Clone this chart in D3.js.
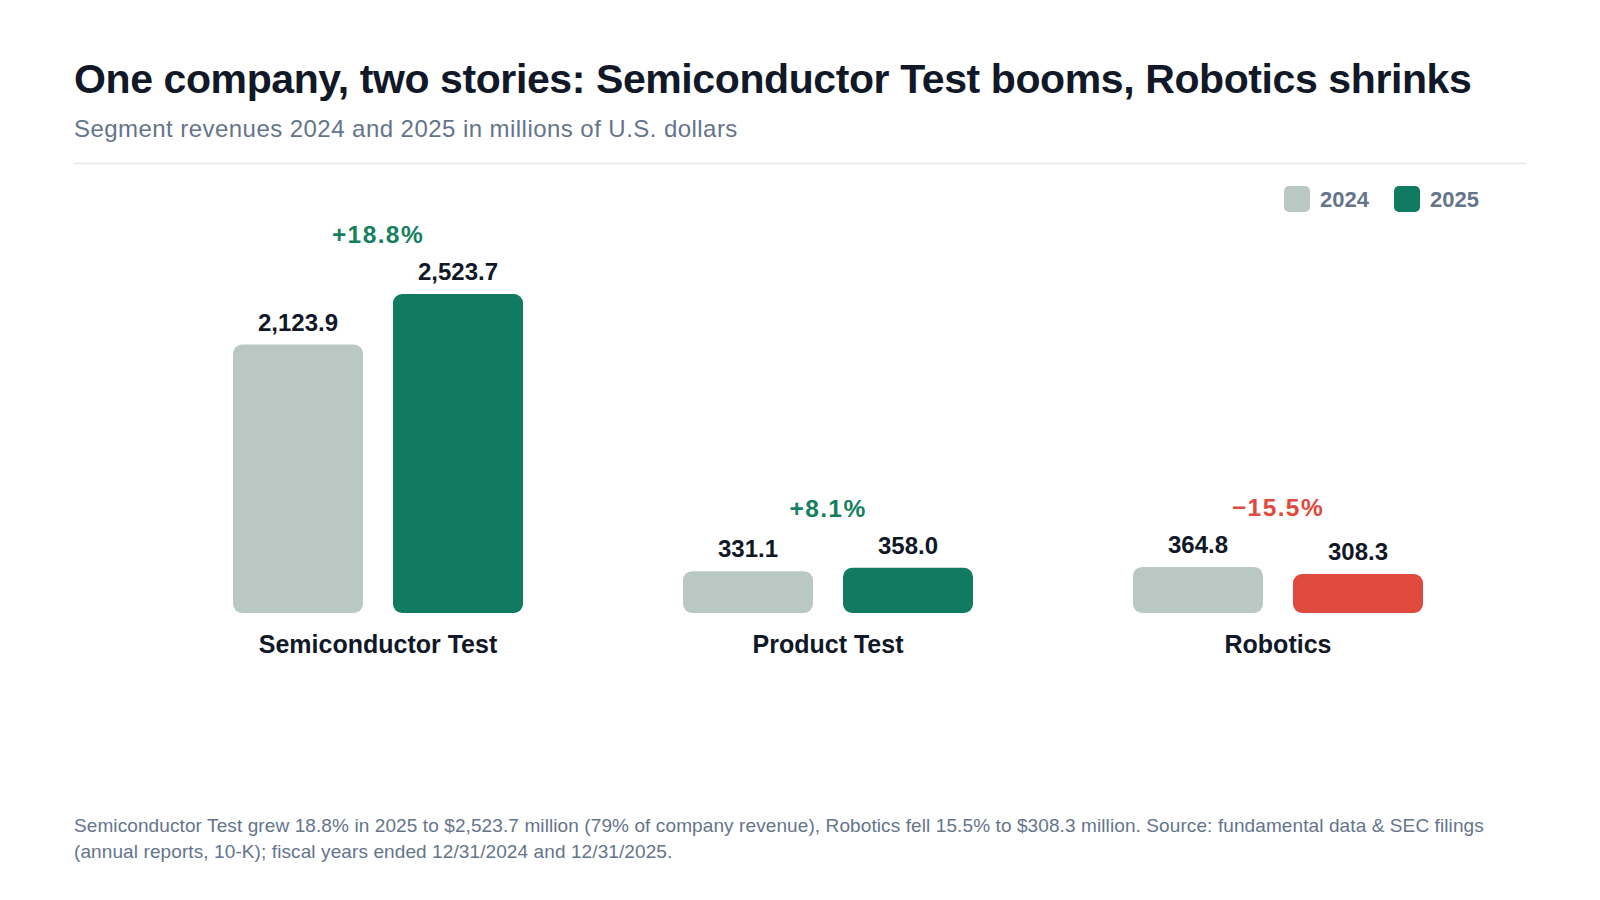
<!DOCTYPE html>
<html>
<head>
<meta charset="utf-8">
<script src="https://cdn.jsdelivr.net/npm/d3@7"></script>
<style>
  html, body { margin: 0; padding: 0; background: #ffffff; }
  svg { display: block; font-family: "Liberation Sans", Arial, Helvetica, sans-serif; }
</style>
</head>
<body>
<div id="chart"></div>
<script>
// dados do gráfico
const segmentos = ["Semiconductor Test", "Product Test", "Robotics"];
const anos = ["2024", "2025"];
const receita2024 = [2123.9, 331.1, 364.8];
const receita2025 = [2523.7, 358.0, 308.3];

const titulo = "One company, two stories: Semiconductor Test booms, Robotics shrinks";
const subtitulo = "Segment revenues 2024 and 2025 in millions of U.S. dollars";
const rodape = [
    "Semiconductor Test grew 18.8% in 2025 to $2,523.7 million (79% of company revenue), Robotics fell 15.5% to $308.3 million. Source: fundamental data & SEC filings",
    "(annual reports, 10-K); fiscal years ended 12/31/2024 and 12/31/2025."
];

const cores = { "2024": "#b9c8c2", "2025": "#107b60", queda: "#e0493e" };
const corAlta = "#15805f";

function gerarGrafico() {
    var largura = 1600;
    var altura = 900;
    var esquerda = 74;

    var dados = segmentos.map((s, i) => ({
        segmento: s,
        valores: [
            { ano: "2024", valor: receita2024[i] },
            { ano: "2025", valor: receita2025[i] }
        ],
        variacao: (receita2025[i] / receita2024[i] - 1) * 100
    }));

    var svg = d3.select("#chart")
        .append("svg")
        .attr("width", largura)
        .attr("height", altura);

    svg.append("rect")
        .attr("width", largura)
        .attr("height", altura)
        .attr("fill", "#ffffff");

    // título e subtítulo
    svg.append("text")
        .attr("x", esquerda)
        .attr("y", 93)
        .attr("font-size", "41px")
        .attr("font-weight", "700")
        .attr("fill", "#111827")
        .attr("letter-spacing", "-0.4px")
        .text(titulo);

    svg.append("text")
        .attr("x", esquerda)
        .attr("y", 137)
        .attr("font-size", "24px")
        .attr("letter-spacing", "0.45px")
        .attr("fill", "#64748b")
        .text(subtitulo);

    svg.append("line")
        .attr("x1", esquerda)
        .attr("x2", 1526)
        .attr("y1", 163.5)
        .attr("y2", 163.5)
        .attr("stroke", "#e5e7eb")
        .attr("stroke-width", 1.5);

    // legenda
    var legenda = svg.append("g")
        .selectAll("g")
        .data(anos)
        .enter().append("g")
        .attr("transform", (d, i) => "translate(" + (1284 + i * 110) + ",186)");

    legenda.append("rect")
        .attr("width", 26)
        .attr("height", 26)
        .attr("rx", 5)
        .attr("fill", d => cores[d]);

    legenda.append("text")
        .attr("x", 36)
        .attr("y", 21)
        .attr("font-size", "22px")
        .attr("font-weight", "700")
        .attr("fill", "#64748b")
        .text(d => d);

    // escalas
    var x0 = d3.scaleBand()
        .domain(segmentos)
        .range([153, 1503]);

    var x1 = d3.scaleBand()
        .domain(anos)
        .range([x0.bandwidth() / 2 - 145, x0.bandwidth() / 2 + 145])
        .paddingInner(0.1875);

    var y = d3.scaleLinear()
        .domain([0, d3.max(receita2025.concat(receita2024))])
        .range([613, 294]);

    var fmtValor = d3.format(",.1f");
    var fmtPct = d3.format("+.1f");

    var grupos = svg.append("g")
        .selectAll("g")
        .data(dados)
        .enter().append("g")
        .attr("transform", d => "translate(" + x0(d.segmento) + ",0)");

    grupos.selectAll("rect")
        .data(d => d.valores.map(v => Object.assign({ variacao: d.variacao }, v)))
        .enter().append("rect")
        .attr("x", d => x1(d.ano))
        .attr("y", d => y(d.valor))
        .attr("width", x1.bandwidth())
        .attr("height", d => y(0) - y(d.valor))
        .attr("rx", 9)
        .attr("fill", d => (d.ano === "2025" && d.variacao < 0) ? cores.queda : cores[d.ano]);

    grupos.selectAll("text.valor")
        .data(d => d.valores)
        .enter().append("text")
        .attr("class", "valor")
        .attr("x", d => x1(d.ano) + x1.bandwidth() / 2)
        .attr("y", d => y(d.valor) - 14)
        .attr("text-anchor", "middle")
        .attr("font-size", "24px")
        .attr("font-weight", "700")
        .attr("fill", "#111827")
        .text(d => fmtValor(d.valor));

    grupos.append("text")
        .attr("x", x0.bandwidth() / 2)
        .attr("y", d => y(d3.max(d.valores, v => v.valor)) - 51)
        .attr("text-anchor", "middle")
        .attr("font-size", "24.5px")
        .attr("font-weight", "700")
        .attr("letter-spacing", "1.4px")
        .attr("fill", d => d.variacao < 0 ? cores.queda : corAlta)
        .text(d => fmtPct(d.variacao) + "%");

    grupos.append("text")
        .attr("x", x0.bandwidth() / 2)
        .attr("y", y(0) + 40)
        .attr("text-anchor", "middle")
        .attr("font-size", "25px")
        .attr("font-weight", "700")
        .attr("fill", "#111827")
        .text(d => d.segmento);

    // rodapé
    svg.append("g")
        .selectAll("text")
        .data(rodape)
        .enter().append("text")
        .attr("x", esquerda)
        .attr("y", (d, i) => 831.5 + i * 26)
        .attr("font-size", "19px")
        .attr("letter-spacing", "0.1px")
        .attr("fill", "#64748b")
        .text(d => d);
}

gerarGrafico();
</script>
</body>
</html>
